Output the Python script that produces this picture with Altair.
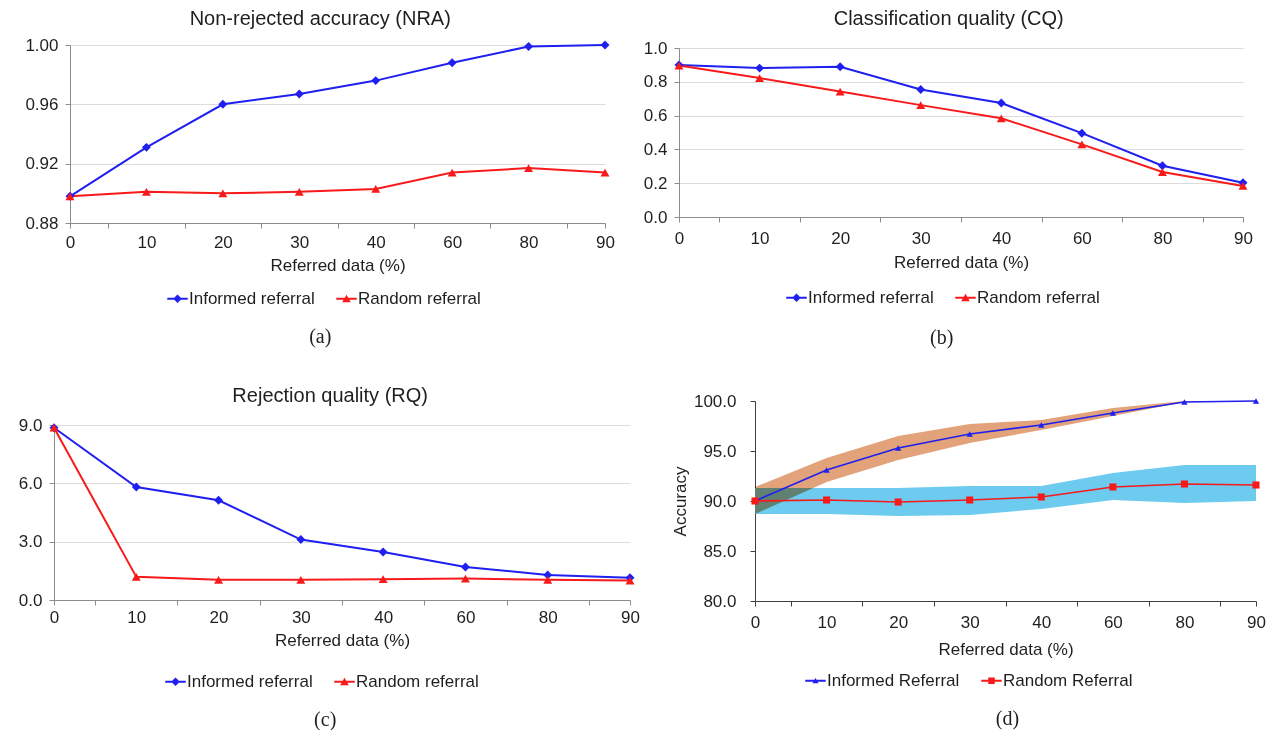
import json
import altair as alt
import pandas as pd

# ---------------- data ----------------
categories = ["0", "10", "20", "30", "40", "60", "80", "90"]

nra_informed = [0.898, 0.931, 0.960, 0.967, 0.976, 0.988, 0.999, 1.000]
nra_random = [0.898, 0.901, 0.900, 0.901, 0.903, 0.914, 0.917, 0.914]

cq_informed = [0.900, 0.881, 0.889, 0.754, 0.674, 0.496, 0.303, 0.203]
cq_random = [0.896, 0.822, 0.742, 0.662, 0.584, 0.430, 0.266, 0.184]

rq_informed = [8.86, 5.81, 5.13, 3.11, 2.47, 1.70, 1.29, 1.14]
rq_random = [8.86, 1.19, 1.04, 1.04, 1.07, 1.10, 1.04, 1.00]

acc_informed = [90.0, 93.1, 95.3, 96.7, 97.6, 98.8, 99.9, 100.0]
acc_random = [90.0, 90.1, 89.9, 90.1, 90.4, 91.4, 91.7, 91.6]
band_informed_lo = [88.7, 91.9, 94.1, 95.8, 97.1, 98.5, 99.9, 100.0]
band_informed_hi = [91.4, 94.3, 96.5, 97.7, 98.1, 99.3, 100.0, 100.0]
band_random_lo = [88.7, 88.7, 88.5, 88.6, 89.2, 90.1, 89.8, 90.0]
band_random_hi = [91.3, 91.3, 91.3, 91.5, 91.5, 92.8, 93.6, 93.6]

names_lower = ["Informed referral", "Random referral"]
names_upper = ["Informed Referral", "Random Referral"]

# ---------------- style ----------------
FONT = "Liberation Sans"
SERIF = "Liberation Serif"
BLUE = "#1F1FF0"
RED = "#F81A1A"
TXT = "#1F1F1F"
AXIS = "#8C8C8C"
GRID = "#DCDCDC"
BAND_BLUE = "#6CCBEE"
BAND_BROWN = "#E2A27A"
FS = 17

n = len(categories) - 1
tick_values = [k / 2 for k in range(2 * n + 1)]
label_expr = "datum.value % 1 == 0 ? " + json.dumps(categories) + "[datum.value] : ''"


def long_df(series_map):
    rows = []
    for name, vals in series_map.items():
        for i, (c, v) in enumerate(zip(categories, vals)):
            rows.append({"idx": i, "cat": c, "series": name, "value": v})
    return pd.DataFrame(rows)


def x_enc(label_pad, title_pad, dcolor=AXIS, xrange=None):
    sc = dict(domain=[0, n], nice=False, zero=False)
    if xrange is not None:
        sc["range"] = xrange
    return alt.X(
        "idx:Q",
        title="Referred data (%)",
        scale=alt.Scale(**sc),
        axis=alt.Axis(
            values=tick_values, labelExpr=label_expr, labelFlush=False,
            labelOverlap=False, grid=False, domainColor=dcolor, tickColor=dcolor,
            tickSize=5,
            tickOpacity={"condition": {"test": f"datum.value % 1 == 0 && datum.value > 0 && datum.value < {n}", "value": 0}, "value": 1},
            labelFont=FONT, labelFontSize=FS, labelColor=TXT, labelPadding=label_pad,
            titleFont=FONT, titleFontSize=FS, titleFontWeight="normal",
            titleColor=TXT, titlePadding=title_pad,
        ),
    )


def y_enc(field, domain, values, fmt, grid, min_extent, title=None,
          label_pad=7, dcolor=AXIS, yrange=None, offset=0):
    axis_kw = dict(
        values=values, format=fmt, grid=grid, gridColor=GRID,
        domainColor=dcolor, tickColor=dcolor, tickSize=5,
        labelFont=FONT, labelFontSize=FS, labelColor=TXT,
        labelPadding=label_pad, minExtent=min_extent, offset=offset,
    )
    if title:
        axis_kw.update(titleFont=FONT, titleFontSize=FS, titleFontWeight="normal",
                       titleColor=TXT, titlePadding=4)
    sc = dict(domain=domain, nice=False, zero=False)
    if yrange is not None:
        sc["range"] = yrange
    return alt.Y(field, title=title, scale=alt.Scale(**sc), axis=alt.Axis(**axis_kw))


LINE_PART = "M-1,-0.09H1V0.09H-1Z "
DIAMOND_LEG = LINE_PART + "M0,-0.42L0.42,0L0,0.42L-0.42,0Z"
TRIANGLE_LEG = LINE_PART + "M0,-0.38L0.42,0.34H-0.42Z"
SMALL_TRI_LEG = LINE_PART + "M0,-0.28L0.3,0.24H-0.3Z"
SQUARE_LEG = LINE_PART + "M-0.32,-0.32H0.32V0.32H-0.32Z"


def independent(ch):
    return ch.resolve_scale(color="independent", shape="independent").resolve_legend(
        color="independent", shape="independent")


def panel(df, names, markers, legend_paths, xe, ye, width, height, title,
          legend_xy, stroke_width=2.0, bands=None):
    base = alt.Chart(df).encode(x=xe, y=ye)
    layers = list(bands or [])
    for nm, col in zip(names, [BLUE, RED]):
        layers.append(base.transform_filter(alt.datum.series == nm)
                      .mark_line(strokeWidth=stroke_width, color=col))
    for nm, col, (shp, sz) in zip(names, [BLUE, RED], markers):
        layers.append(base.transform_filter(alt.datum.series == nm)
                      .mark_point(filled=True, opacity=1, shape=shp, size=sz, color=col))
    leg = alt.Legend(
        orient="none", legendX=legend_xy[0], legendY=legend_xy[1],
        direction="horizontal", title=None, labelFont=FONT, labelFontSize=FS,
        labelColor=TXT, symbolSize=420, symbolOpacity=1, symbolStrokeWidth=0,
        columnPadding=21, labelOffset=1, padding=0,
    )
    legend_layer = base.mark_point(filled=True, opacity=0).encode(
        color=alt.Color("series:N", scale=alt.Scale(domain=names, range=[BLUE, RED]), legend=leg),
        shape=alt.Shape("series:N", scale=alt.Scale(domain=names, range=legend_paths), legend=leg),
    )
    layers.append(legend_layer)
    props = dict(width=width, height=height)
    if title is not None:
        props["title"] = title
    return alt.layer(*layers).properties(**props)


def ptitle(text, offset, dx=0):
    return alt.TitleParams(text, font=FONT, fontSize=20, fontWeight="normal",
                           color=TXT, anchor="middle", frame="bounds",
                           offset=offset, dx=dx)


def captioned(ch, text, dx=0, dy=0):
    return independent(alt.vconcat(ch, title=alt.TitleParams(
        text, orient="bottom", font=SERIF, fontSize=20, fontWeight="normal",
        color=TXT, offset=20, dx=dx, dy=dy, anchor="middle")))


# ---------------- panels ----------------
df_a = long_df({names_lower[0]: nra_informed, names_lower[1]: nra_random})
pa = panel(
    df_a, names_lower, [("diamond", 80), ("triangle-up", 80)],
    [DIAMOND_LEG, TRIANGLE_LEG],
    x_enc(6, 7),
    y_enc("value:Q", [0.88, 1.0], [0.88, 0.92, 0.96, 1.0], ".2f", True, 62),
    535, 178, ptitle("Non-rejected accuracy (NRA)", 7.5, dx=9), (97, 243),
)

df_b = long_df({names_lower[0]: cq_informed, names_lower[1]: cq_random})
pb = panel(
    df_b, names_lower, [("diamond", 80), ("triangle-up", 80)],
    [DIAMOND_LEG, TRIANGLE_LEG],
    x_enc(8, 8.5),
    y_enc("value:Q", [0, 1.0], [0, 0.2, 0.4, 0.6, 0.8, 1.0], ".1f", True, 38,
          yrange=[172, 3]),
    564, 172, ptitle("Classification quality (CQ)", 10.5, dx=2), (107, 242),
)

df_c = long_df({names_lower[0]: rq_informed, names_lower[1]: rq_random})
pc = panel(
    df_c, names_lower, [("diamond", 80), ("triangle-up", 80)],
    [DIAMOND_LEG, TRIANGLE_LEG],
    x_enc(4.5, 6.5, xrange=[-16, 560]),
    y_enc("value:Q", [0, 9], [0, 3, 6, 9], ".1f", True, 30, offset=16),
    560, 175, ptitle("Rejection quality (RQ)", 10.5, dx=-2), (95, 246),
)

df_d = long_df({names_upper[0]: acc_informed, names_upper[1]: acc_random})
band_rows = []
for i in range(len(categories)):
    band_rows.append({"idx": i, "band": "random", "lo": band_random_lo[i], "hi": band_random_hi[i]})
    band_rows.append({"idx": i, "band": "informed", "lo": band_informed_lo[i], "hi": band_informed_hi[i]})
band_df = pd.DataFrame(band_rows)

xd = x_enc(8.5, 10.5, dcolor="#404040")
yd_args = ([80, 100], [80, 85, 90, 95, 100], ".1f", False, 30)
yd_kw = dict(title="Accuracy", label_pad=14, dcolor="#404040", yrange=[176, -24])
band_random = alt.Chart(band_df).transform_filter(alt.datum.band == "random").mark_area(
    color=BAND_BLUE, opacity=1).encode(
    x=xd, y=y_enc("lo:Q", *yd_args, **yd_kw), y2="hi:Q")
band_informed = alt.Chart(band_df).transform_filter(alt.datum.band == "informed").mark_area(
    color=BAND_BROWN, opacity=1, blend="multiply").encode(
    x=xd, y=y_enc("lo:Q", *yd_args, **yd_kw), y2="hi:Q")

pd_ = panel(
    df_d, names_upper, [("triangle-up", 40), ("square", 50)],
    [SMALL_TRI_LEG, SQUARE_LEG],
    xd,
    y_enc("value:Q", *yd_args, **yd_kw),
    501, 176, None, (50, 245),
    stroke_width=1.6, bands=[band_random, band_informed],
)

row1 = independent(alt.hconcat(captioned(pa, "(a)", dx=9), captioned(pb, "(b)", dx=-5, dy=2), spacing=26))
row2 = independent(alt.hconcat(captioned(pc, "(c)", dx=-7), captioned(pd_, "(d)", dx=39), spacing=25))

chart = (
    independent(alt.vconcat(row1, row2, spacing=37))
    .properties(padding=0, background="white")
    .configure_view(stroke=None)
)

chart.save("out.html", embed_options={"renderer": "svg", "actions": False})
